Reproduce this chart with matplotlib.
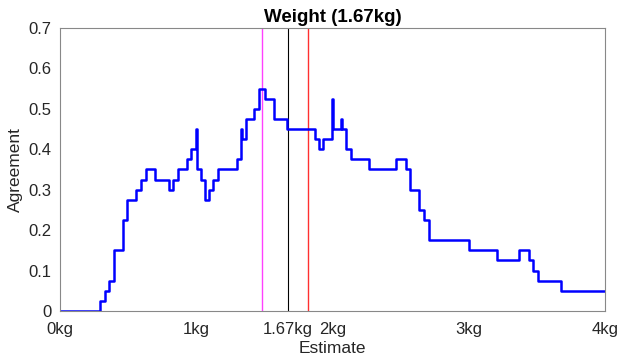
import matplotlib
matplotlib.use("Agg")
import matplotlib.pyplot as plt

# step start positions (kg) and agreement values (steps-post)
estimate_kg = [0.0, 0.294, 0.330, 0.360, 0.394, 0.462, 0.494, 0.560, 0.592, 0.629,
               0.697, 0.800, 0.827, 0.864, 0.930, 0.959, 0.997, 1.002, 1.033, 1.064,
               1.094, 1.125, 1.162, 1.297, 1.326, 1.331, 1.336, 1.363, 1.426, 1.463,
               1.505, 1.571, 1.666, 1.872, 1.903, 1.928, 1.998, 2.003, 2.065, 2.070,
               2.097, 2.134, 2.270, 2.466, 2.539, 2.569, 2.637, 2.672, 2.706, 3.004,
               3.205, 3.369, 3.442, 3.474, 3.510, 3.677, 4.0]
agreement = [0.0, 0.025, 0.05, 0.075, 0.15, 0.225, 0.275, 0.3, 0.325, 0.35,
             0.325, 0.3, 0.325, 0.35, 0.375, 0.4, 0.45, 0.35, 0.325, 0.275,
             0.3, 0.325, 0.35, 0.375, 0.425, 0.45, 0.425, 0.475, 0.5, 0.55,
             0.525, 0.475, 0.45, 0.425, 0.4, 0.425, 0.525, 0.45, 0.475, 0.45,
             0.4, 0.375, 0.35, 0.375, 0.35, 0.3, 0.25, 0.225, 0.175, 0.15,
             0.125, 0.15, 0.125, 0.1, 0.075, 0.05, 0.05]

magenta_line = 1.483
true_weight = 1.67
red_line = 1.823

xticks = [0, 1, 1.67, 2, 3, 4]
xticklabels = ["0kg", "1kg", "1.67kg", "2kg", "3kg", "4kg"]
yticks = [0, 0.1, 0.2, 0.3, 0.4, 0.5, 0.6, 0.7]
yticklabels = ["0", "0.1", "0.2", "0.3", "0.4", "0.5", "0.6", "0.7"]

plt.rcParams['font.family'] = ['Liberation Sans', 'DejaVu Sans']
text_color = '#262626'

fig = plt.figure(figsize=(6.19, 3.62), dpi=100)
ax = fig.add_axes([0.0969, 0.1409, 0.8805, 0.7818])

ax.axvline(magenta_line, color='#ff40ff', lw=1.0)
ax.axvline(true_weight, color='black', lw=0.8)
ax.axvline(red_line, color='#ff3030', lw=1.0)
ax.plot(estimate_kg, agreement, drawstyle='steps-post', color='#0000ff', lw=1.8)

ax.set_xlim(0, 4)
ax.set_ylim(0, 0.7)
ax.set_xticks(xticks)
ax.set_xticklabels(xticklabels)
ax.set_yticks(yticks)
ax.set_yticklabels(yticklabels)
ax.tick_params(length=0, labelsize=12, colors=text_color)
ax.tick_params(axis='x', pad=8)
ax.tick_params(axis='y', pad=6)
for s in ax.spines.values():
    s.set_color('#888888')
    s.set_linewidth(0.8)

ax.set_title("Weight (1.67kg)", fontsize=13.5, fontweight='bold', color='black', pad=4)
ax.set_xlabel("Estimate", fontsize=12.5, color=text_color, labelpad=3)
ax.set_ylabel("Agreement", fontsize=12.5, color=text_color, labelpad=4)

fig.savefig("out.png", dpi=100)
